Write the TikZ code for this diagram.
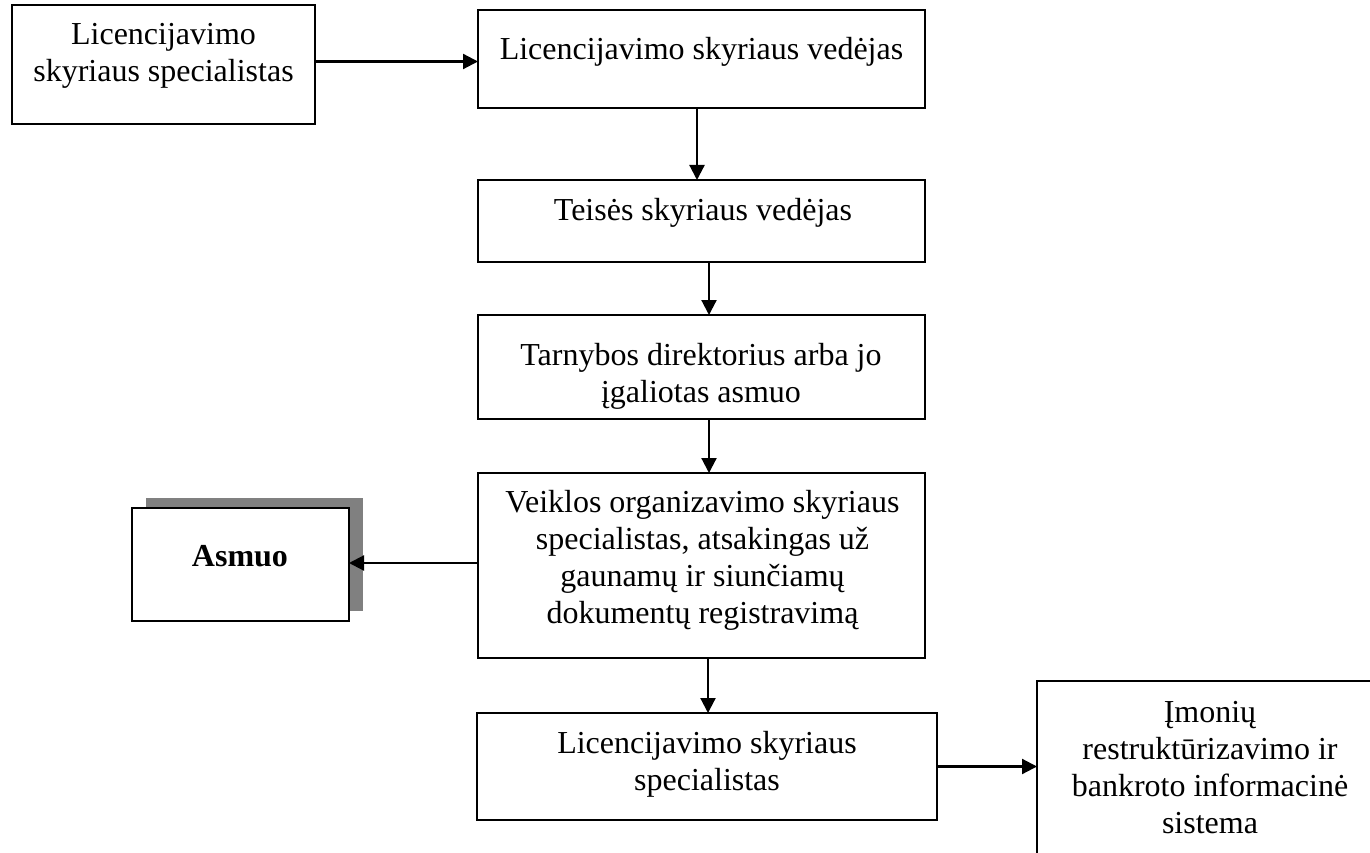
\documentclass[tikz,border=0pt]{standalone}
\usepackage{fontspec}
\setmainfont{Liberation Serif}
\usetikzlibrary{arrows.meta,backgrounds}
\begin{document}
\begin{tikzpicture}[x=1pt,y=-1pt,
  box/.style={draw=black,line width=2pt,fill=white,inner sep=0pt,outer sep=0pt,anchor=north west},
  txt/.style={inner sep=0pt,align=center,anchor=base,font=\fontsize{32}{37}\selectfont},
  arr/.style={line width=2.2pt,-{Triangle[length=15pt,width=15pt]}}]
\useasboundingbox (0,0) rectangle (1370,853);
\clip (0,0) rectangle (1370,853);
% boxes
\node[box,minimum width=303pt,minimum height=119pt] (b1) at (12,5) {};
\node[box,minimum width=447pt,minimum height=98pt] (b2) at (478,10) {};
\node[box,minimum width=447pt,minimum height=82pt] (b3) at (478,180) {};
\node[box,minimum width=447pt,minimum height=104pt] (b4) at (478,315) {};
\node[box,minimum width=447pt,minimum height=185pt] (b5) at (478,473) {};
\node[box,minimum width=217pt,minimum height=113pt] (asm) at (132,508) {};
\node[box,minimum width=460pt,minimum height=107pt] (b6) at (477,713) {};
\node[box,minimum width=346pt,minimum height=200pt] (b7) at (1037,681) {};
\begin{scope}[on background layer]
\fill[white] (0,0) rectangle (1370,853);
\fill[black!50] ([xshift=14pt,yshift=10pt]asm.south west) rectangle ([xshift=14pt,yshift=10pt]asm.north east);
\end{scope}
% texts (anchor = baseline of the last line)
\node[txt] (t1) at (163.5,82) {Licencijavimo\\skyriaus specialistas};
\node[txt] (t2) at (701.5,60) {Licencijavimo skyriaus vedėjas};
\node[txt] (t3) at (703,220) {Teisės skyriaus vedėjas};
\node[txt] (t4) at (701,402) {Tarnybos direktorius arba jo\\įgaliotas asmuo};
\node[txt] (t5) at (702.5,623) {Veiklos organizavimo skyriaus\\specialistas, atsakingas už\\gaunamų ir siunčiamų\\dokumentų registravimą};
\node[txt,font=\fontsize{32}{37}\selectfont\bfseries] (ta) at (240,566) {Asmuo};
\node[txt] (t6) at (707,790) {Licencijavimo skyriaus\\specialistas};
\node[txt] (t7) at (1210,833) {Įmonių\\restruktūrizavimo ir\\bankroto informacinė\\sistema};
% connectors
\draw[arr] ([yshift=3pt]b1.east) -- ([yshift=3pt]b1.east -| b2.west);
\draw[arr] ([xshift=-4.5pt]b2.south) -- ([xshift=-4.5pt]b2.south |- b3.north);
\draw[arr] ([xshift=7.5pt]b3.south) -- ([xshift=7.5pt]b3.south |- b4.north);
\draw[arr] ([xshift=7.5pt]b4.south) -- ([xshift=7.5pt]b4.south |- b5.north);
\draw[arr] ([yshift=2.5pt]b5.west) -- ([yshift=2.5pt]b5.west -| asm.east);
\draw[arr] ([xshift=6.5pt]b5.south) -- ([xshift=6.5pt]b5.south |- b6.north);
\draw[arr] (b6.east) -- (b6.east -| b7.west);
\end{tikzpicture}
\end{document}
